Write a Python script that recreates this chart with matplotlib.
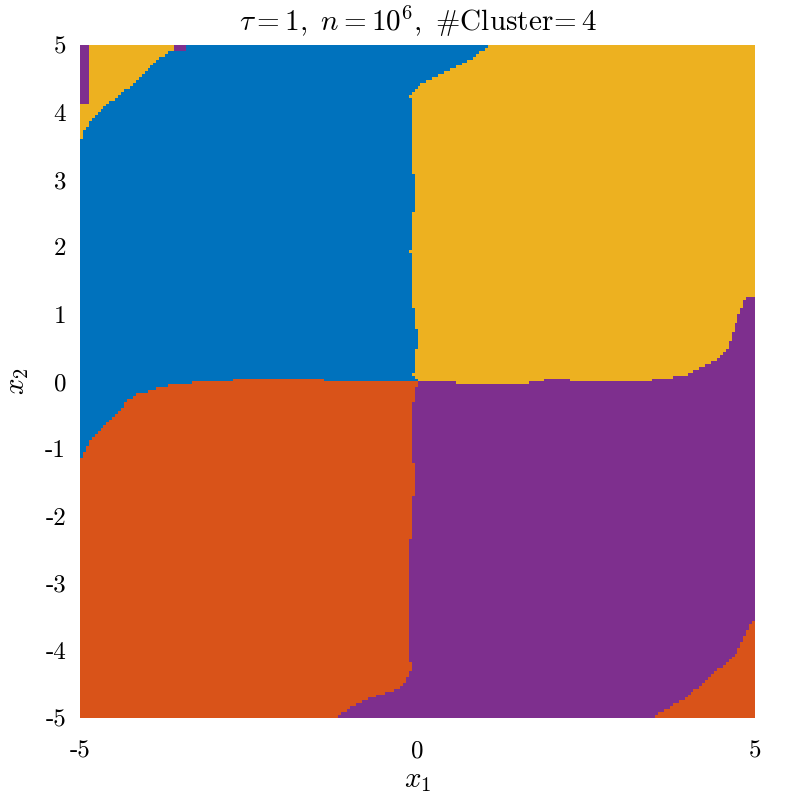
import numpy as np
import matplotlib.pyplot as plt
from matplotlib.path import Path
from matplotlib.colors import ListedColormap

plt.rcParams['mathtext.fontset'] = 'cm'
plt.rcParams['font.family'] = ['cmr10', 'DejaVu Serif']

# cluster colours (MATLAB default order)
cluster_colors = ['#D95319', '#0072BD', '#EDB120', '#7E2F8E', '#77AC30']

# boundary curves, all starting at the centre (0, 0);
# the last point of each sits just outside the box so edge cells are covered
upper_v_x = [0.0, -0.07, 0.0, -0.08, -0.11, -0.05, -0.11, 0.04, 0.33, 0.78, 1.07, 1.07]
upper_v_y = [0.0, 0.1, 0.62, 1.2, 1.96, 2.7, 4.26, 4.41, 4.55, 4.78, 5.0, 5.5]

left_h_x = [0.0, -1.0, -1.9, -2.8, -3.6, -4.2, -4.55, -4.85, -5.0, -5.5]
left_h_y = [0.0, 0.0, 0.05, 0.02, -0.04, -0.2, -0.55, -0.85, -1.17, -1.17]

right_h_x = [0.0, 0.8, 1.5, 2.0, 2.5, 3.2, 4.0, 4.4, 4.6, 4.75, 4.85, 5.0, 5.5]
right_h_y = [0.0, -0.03, -0.05, 0.05, 0.0, -0.02, 0.1, 0.3, 0.5, 0.95, 1.24, 1.28, 1.28]

lower_v_x = [0.0, -0.1, -0.05, -0.12, -0.15, -0.1, -0.25, -0.7, -1.0, -1.2, -1.2]
lower_v_y = [0.0, -0.5, -1.5, -2.5, -3.5, -4.3, -4.55, -4.7, -4.85, -5.0, -5.5]

# small corner regions
tl_corner_x = [-3.52, -3.52, -3.81, -4.16, -4.56, -4.81, -4.96, -5.0, -5.5]
tl_corner_y = [5.5, 5.0, 4.81, 4.47, 4.14, 3.92, 3.68, 3.55, 3.55]

br_corner_x = [3.47, 3.47, 3.93, 4.29, 4.66, 4.78, 4.88, 5.0, 5.5]
br_corner_y = [-5.5, -5.0, -4.73, -4.44, -4.09, -3.95, -3.70, -3.52, -3.52]

# purple specks in the top-left corner
spot1_x = [-5.5, -4.88, -4.86, -4.88, -5.5]
spot1_y = [5.5, 5.5, 4.6, 4.14, 4.14]
spot2_x = [-3.75, -3.4, -3.45, -3.6]
spot2_y = [5.5, 5.5, 4.92, 4.9]
# tiny green speck near the centre
spot3_x = [-0.35, -0.25, -0.22, -0.32]
spot3_y = [0.1, 0.07, 0.05, 0.08]

n_grid = 230
step = 10.0 / n_grid
xs = np.linspace(-5 + step / 2, 5 - step / 2, n_grid)
ys = np.linspace(-5 + step / 2, 5 - step / 2, n_grid)
gx, gy = np.meshgrid(xs, ys)
pts = np.column_stack([gx.ravel(), gy.ravel()])


def region(px, py):
    return Path(np.column_stack([px, py])).contains_points(pts).reshape(gx.shape)


labels = np.zeros(gx.shape, dtype=int)  # orange everywhere first

blue_x = upper_v_x + tl_corner_x + left_h_x[::-1]
blue_y = upper_v_y + tl_corner_y + left_h_y[::-1]
labels[region(blue_x, blue_y)] = 1

yellow_x = upper_v_x + [5.5] + right_h_x[::-1]
yellow_y = upper_v_y + [5.5] + right_h_y[::-1]
labels[region(yellow_x, yellow_y)] = 2

purple_x = right_h_x + br_corner_x[::-1] + lower_v_x[::-1]
purple_y = right_h_y + br_corner_y[::-1] + lower_v_y[::-1]
labels[region(purple_x, purple_y)] = 3

labels[region(tl_corner_x + [-5.5], tl_corner_y + [5.5])] = 2
labels[region(spot1_x, spot1_y)] = 3
labels[region(spot2_x, spot2_y)] = 3
labels[region(spot3_x, spot3_y)] = 4

fig = plt.figure(figsize=(7.89, 7.99), dpi=100)
ax = fig.add_axes([0.1014, 0.1014, 0.8556, 0.8423])
ax.pcolormesh(xs, ys, labels, cmap=ListedColormap(cluster_colors),
              vmin=-0.5, vmax=4.5, shading='nearest')
ax.set_xlim(-5, 5)
ax.set_ylim(-5, 5)
ax.set_xticks([-5, 0, 5])
ax.set_yticks(range(-5, 6))
ax.set_yticklabels([str(v) for v in range(-5, 6)])
ax.set_xticklabels(['-5', '0', '5'])
ax.tick_params(axis='y', length=0, labelsize=18, pad=10)
ax.tick_params(axis='x', length=0, labelsize=18, pad=16)
for s in ax.spines.values():
    s.set_visible(False)
ax.set_xlabel('$x_1$', fontsize=21, labelpad=4)
ax.set_ylabel('$x_2$', fontsize=21, labelpad=10)
ax.set_title(r'$\tau=1,\ n=10^6,\ \#\mathrm{Cluster}\!=4$', fontsize=21, pad=10)

fig.savefig('out.png', dpi=100)
